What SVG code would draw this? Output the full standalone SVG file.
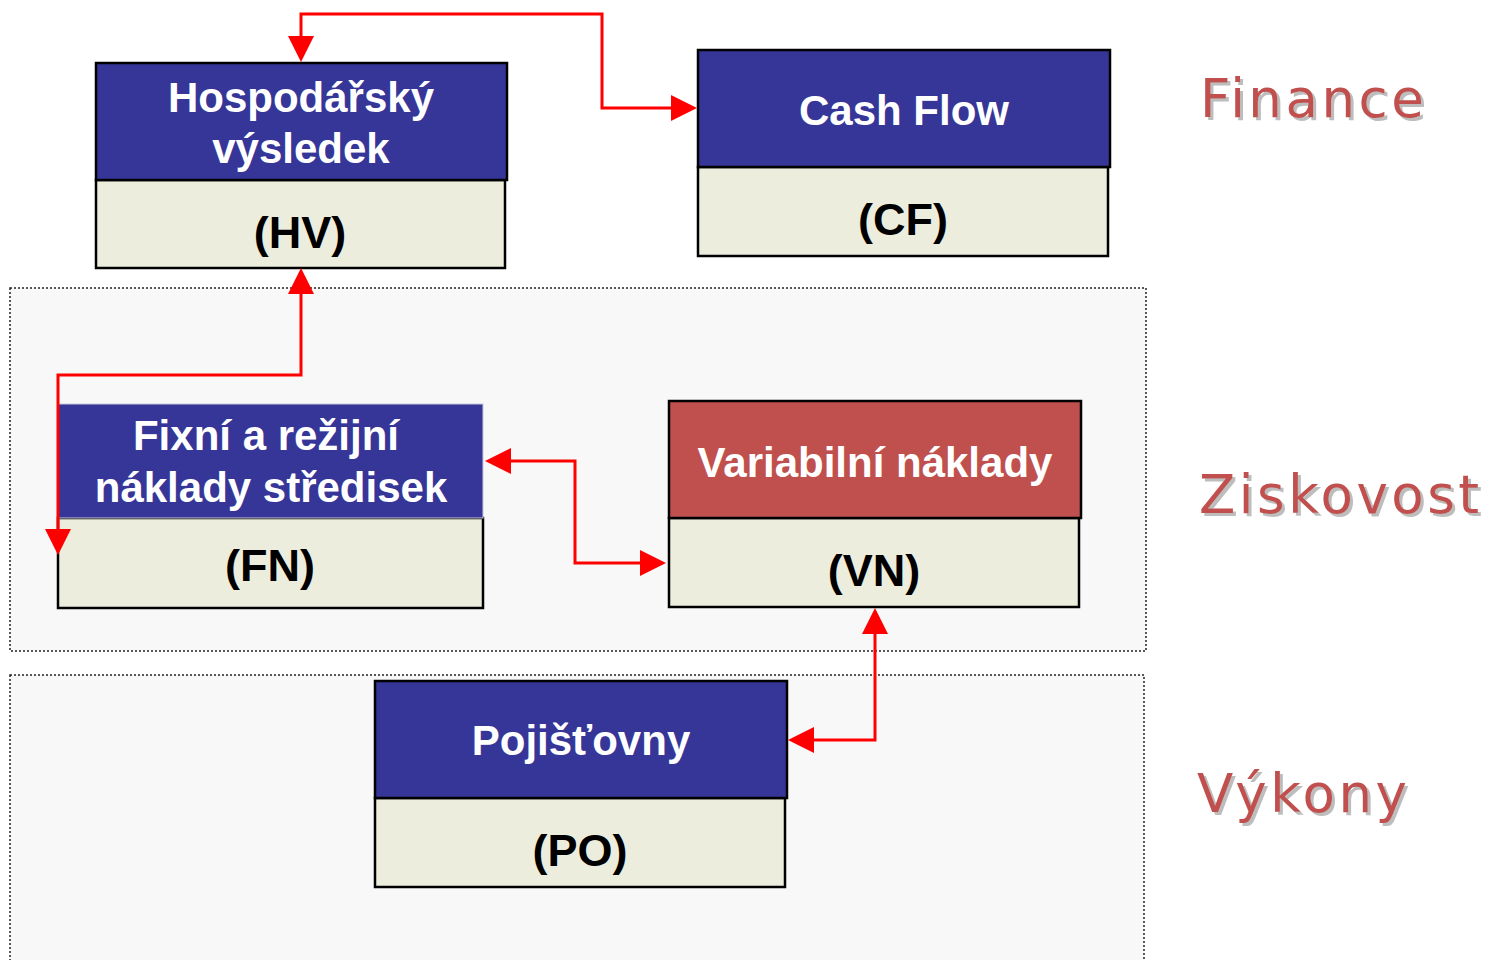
<svg xmlns="http://www.w3.org/2000/svg" width="1486" height="960" viewBox="0 0 1486 960">
<style>
.zone{fill:#f8f8f8;stroke:#222;stroke-width:1.5;stroke-dasharray:2 2}
.hdr{fill:#363699;stroke:#000;stroke-width:2.5}
.hdr2{fill:#363699;stroke:#c8c8d8;stroke-width:1}
.hdrR{fill:#c0504d;stroke:#000;stroke-width:2.5}
.sub{fill:#ededdd;stroke:#000;stroke-width:2.5}
.t{font-family:"Liberation Sans",Arial,sans-serif;font-weight:bold;font-size:42px;fill:#fff;text-anchor:middle}
.c{font-family:"Liberation Sans",Arial,sans-serif;font-weight:bold;font-size:45px;fill:#000;text-anchor:middle}
.lbl{font-family:"DejaVu Sans",Verdana,sans-serif;font-size:53px;letter-spacing:3.5px;fill:#c0504d;filter:url(#shadow)}
.con{fill:none;stroke:#ff0000;stroke-width:3;marker-start:url(#ah);marker-end:url(#ah)}
</style>
<defs>
<marker id="ah" markerUnits="userSpaceOnUse" markerWidth="26" markerHeight="26" viewBox="0 0 26 26" refX="16" refY="13" orient="auto-start-reverse">
<path d="M0,0 L26,13 L0,26 z" fill="#ff0000"/>
</marker>
<filter id="shadow" x="-10%" y="-20%" width="120%" height="140%">
<feOffset in="SourceAlpha" dx="3" dy="3" result="off"/>
<feFlood flood-color="#bdbdbd"/>
<feComposite in2="off" operator="in" result="sh"/>
<feMerge><feMergeNode in="sh"/><feMergeNode in="SourceGraphic"/></feMerge>
</filter>
</defs>
<rect width="1486" height="960" fill="#fff"/>
<g id="zone-ziskovost"><rect class="zone" x="10" y="288" width="1136" height="363"/></g>
<g id="zone-vykony"><rect class="zone" x="10" y="675" width="1134" height="295"/></g>

<g id="labels">
<text class="lbl" x="1200" y="117">Finance</text>
<text class="lbl" x="1199" y="513">Ziskovost</text>
<text class="lbl" x="1197" y="812">Výkony</text>
</g>

<g id="node-hv">
<rect class="sub" x="96" y="180" width="409" height="88"/>
<rect class="hdr" x="96" y="63" width="411" height="117"/>
<text class="t" x="301" y="112">Hospodářský</text>
<text class="t" x="301" y="163">výsledek</text>
<text class="c" x="300" y="248">(HV)</text>
</g>

<g id="node-cf">
<rect class="sub" x="698" y="167" width="410" height="89"/>
<rect class="hdr" x="698" y="50" width="412" height="117"/>
<text class="t" x="904" y="125">Cash Flow</text>
<text class="c" x="903" y="235">(CF)</text>
</g>

<g id="node-fn">
<rect class="sub" x="58" y="518" width="425" height="90"/>
<rect class="hdr2" x="58" y="404" width="425" height="114"/>
<text class="t" x="266" y="450">Fixní a režijní</text>
<text class="t" x="271" y="502">náklady středisek</text>
<text class="c" x="270" y="581">(FN)</text>
</g>

<g id="node-vn">
<rect class="sub" x="669" y="518" width="410" height="89"/>
<rect class="hdrR" x="669" y="401" width="412" height="117"/>
<text class="t" x="875" y="477">Variabilní náklady</text>
<text class="c" x="874" y="586">(VN)</text>
</g>

<g id="node-po">
<rect class="sub" x="375" y="798" width="410" height="89"/>
<rect class="hdr" x="375" y="681" width="412" height="117"/>
<text class="t" x="581" y="755">Pojišťovny</text>
<text class="c" x="580" y="866">(PO)</text>
</g>

<g id="connectors">
<path class="con" d="M301,52 L301,14 L602,14 L602,108 L687,108"/>
<path class="con" d="M301,278 L301,375 L58,375 L58,545"/>
<path class="con" d="M495,461 L575,461 L575,563 L656,563"/>
<path class="con" d="M875,618 L875,740 L798,740"/>
</g>
</svg>
